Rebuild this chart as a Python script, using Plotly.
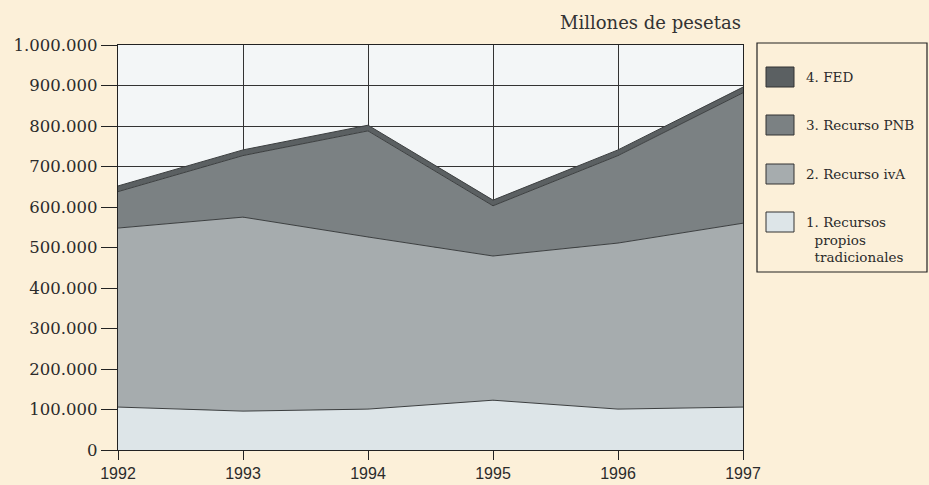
import plotly.graph_objects as go

years = [1992, 1993, 1994, 1995, 1996, 1997]
# millones de pesetas
trad = [106000, 96000, 101000, 123000, 101000, 106000]
iva = [442000, 479000, 425000, 356000, 410000, 454000]
pnb = [90000, 152000, 262000, 124000, 216000, 322000]
fed = [14000, 14000, 14000, 14000, 14000, 14000]

labels = ["1. Recursos<br>  propios<br>  tradicionales", "2. Recurso ivA",
          "3. Recurso PNB", "4. FED"]
colors = ["#dde5e8", "#a6acae", "#7b8183", "#5b6062"]
series = [trad, iva, pnb, fed]

serif = "DejaVu Serif"
narrow = "Liberation Sans Narrow, Arial Narrow, sans-serif"

fig = go.Figure()
for vals, name, col in zip(series, labels, colors):
    fig.add_trace(go.Scatter(
        x=years, y=vals, name=name, mode="lines",
        stackgroup="one",
        line=dict(color="#3c3f40", width=1),
        fillcolor=col,
        showlegend=False
    ))

# hand-drawn legend box like the original
def px_x(v):
    return (v - 118) / 625

def px_y(v):
    return (450 - v) / 405

fig.add_shape(type="rect", xref="paper", yref="paper",
              x0=px_x(757), x1=px_x(927), y0=px_y(272), y1=px_y(43),
              line=dict(color="#222", width=1.2), fillcolor="rgba(0,0,0,0)")
rows = [(222, 0), (174, 1), (125, 2), (77, 3)]
for cy, i in rows:
    fig.add_shape(type="rect", xref="paper", yref="paper",
                  x0=px_x(766), x1=px_x(794), y0=px_y(cy + 10), y1=px_y(cy - 10),
                  line=dict(color="#333", width=1), fillcolor=colors[i])
    fig.add_annotation(xref="paper", yref="paper", x=px_x(804), y=px_y(cy - 10),
                       text=labels[i].replace("  ", "&nbsp;&nbsp;"),
                       showarrow=False, xanchor="left", yanchor="top", align="left",
                       font=dict(family=serif, size=13.5, color="#2b2b2b"))

fig.add_annotation(xref="paper", yref="paper", x=1.0, y=px_y(22), text="Millones de pesetas",
                   showarrow=False, xanchor="right", yanchor="middle",
                   font=dict(family=serif, size=18, color="#333"))

fig.update_layout(
    width=929, height=485,
    margin=dict(l=118, r=186, t=45, b=35, autoexpand=False),
    paper_bgcolor="#fcf0d9",
    plot_bgcolor="#f3f6f7",
    separators=",.",
    xaxis=dict(range=[1992, 1997], tickvals=years, showgrid=True, gridcolor="#333",
               gridwidth=1.3, showline=True, linecolor="#222", linewidth=1.3,
               ticks="outside", ticklen=9, tickcolor="#222", zeroline=False, mirror=True,
               automargin=False,
               tickfont=dict(family=narrow, size=16, color="#2b2b2b")),
    yaxis=dict(range=[0, 1000000], dtick=100000, tickformat=",d", showgrid=True,
               gridcolor="#333", gridwidth=1.3, showline=True, linecolor="#222",
               linewidth=1.3, ticks="outside", ticklen=16, tickcolor="#222",
               zeroline=False, mirror=True, automargin=False,
               tickfont=dict(family=serif, size=16.5, color="#2b2b2b")),
)

fig.write_html(
    "out.html",
    config={"displayModeBar": False},
    post_script="document.body.style.margin='0';document.body.style.overflow='hidden';",
)
